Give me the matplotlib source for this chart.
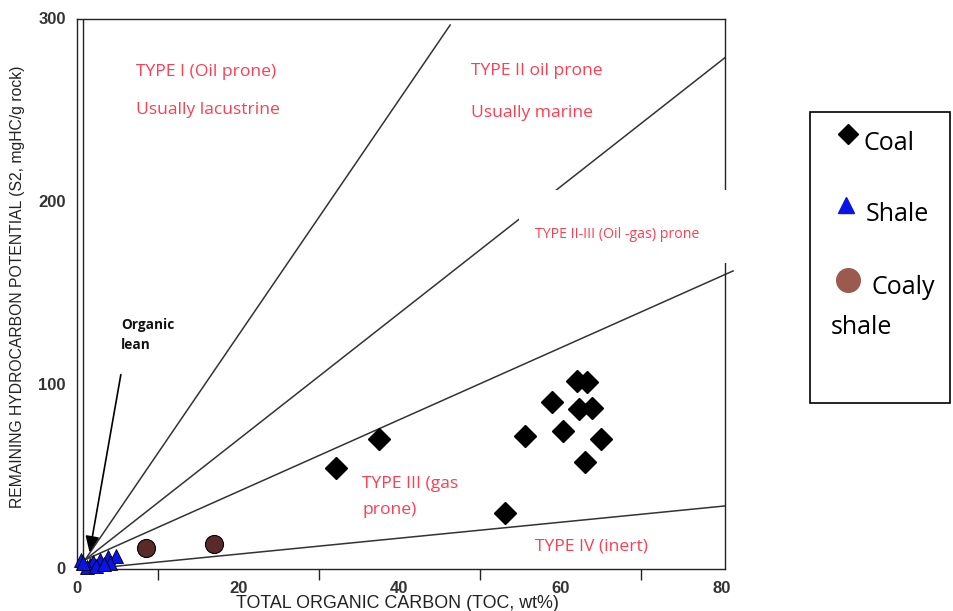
import matplotlib
matplotlib.use("Agg")
import matplotlib.pyplot as plt
from matplotlib.patches import Rectangle
from matplotlib.lines import Line2D

# ---------------- data ----------------
coal_toc = [62.0, 63.3, 58.9, 62.3, 63.9, 55.6, 60.3, 65.0, 63.0, 37.5, 32.1, 53.1]
coal_s2 = [102.6, 102.0, 91.1, 87.3, 87.8, 72.5, 75.3, 70.9, 58.4, 70.9, 55.1, 30.5]

shale_toc = [0.5, 1.6, 2.0, 2.9, 3.9, 4.9, 4.1, 1.2, 2.4, 3.3, 0.8]
shale_s2 = [4.9, 2.2, 4.0, 4.9, 6.4, 7.1, 3.4, 0.9, 1.6, 2.7, 3.1]

coaly_toc = [8.6, 17.0]
coaly_s2 = [11.3, 13.6]

# kerogen-type boundary lines (start point, slope, end TOC)
line_x0 = [1.0, 1.0, 1.0, 2.5]
line_y0 = [5.0, 5.0, 5.0, 0.5]
line_slope = [6.44, 3.45, 1.96, 0.435]
line_x1 = [46.3, 80.4, 81.4, 80.4]

x_ticklabels = [0, 20, 40, 60, 80]
x_minor_ticks = [10, 30, 50, 70]
y_ticklabels = [0, 100, 200, 300]

W, H = 954, 611
fig = plt.figure(figsize=(W / 100, H / 100), dpi=100)
ax = fig.add_axes([77 / W, 1 - 569 / H, (725 - 77) / W, (569 - 19) / H])
ax.set_xlim(0, 80.4)
ax.set_ylim(0, 300)

for s in ax.spines.values():
    s.set_linewidth(1.0)
    s.set_color("#222222")

ax.set_xticks(x_minor_ticks)
ax.set_xticklabels([])
ax.tick_params(axis="x", direction="out", length=8, width=1, color="#222222")
ax.set_yticks([])

tickfont = dict(family=["Liberation Sans", "DejaVu Sans"], fontsize=12,
                fontweight="bold", color="#333333")
for v in x_ticklabels:
    ax.text(v, -10.5, str(v), ha="center", va="center", **tickfont)
for v in y_ticklabels:
    ax.text(-1.4, v, str(v), ha="right", va="center", **tickfont)

narrow = ["Liberation Sans Narrow", "Liberation Sans", "DejaVu Sans"]
ax.text(39.8, -18.9, "TOTAL ORGANIC CARBON (TOC, wt%)", ha="center", va="center",
        family=narrow, fontsize=12.9, color="#222222")
fig.text(18 / W, 1 - 287 / H, "REMAINING HYDROCARBON POTENTIAL (S2, mgHC/g rock)",
         rotation=90, ha="center", va="center", family=narrow, fontsize=11.3,
         color="#222222")

# inner vertical line near the left spine
ax.axvline(0.75, color="#222222", lw=1.0)

# boundary lines
for x0, y0, m, x1 in zip(line_x0, line_y0, line_slope, line_x1):
    ax.plot([x0, x1], [y0, y0 + m * (x1 - x0)], color="#333333", lw=1.1,
            clip_on=False, zorder=2)

# organic lean arrow
ax.annotate("", xy=(1.5, 7.5), xytext=(5.5, 107.5),
            arrowprops=dict(arrowstyle="-|>,head_width=0.3,head_length=0.7",
                            color="black", lw=1.2, mutation_scale=14),
            zorder=3)
bold = dict(ha="left", va="center", fontsize=9.8, fontweight="bold",
            family=["Open Sans", "DejaVu Sans"], color="#111111")
ax.text(5.5, 133, "Organic", **bold)
ax.text(5.5, 122, "lean", **bold)

# data points
ax.plot(shale_toc, shale_s2, linestyle="none", marker="^", markersize=10,
        markerfacecolor="#0a14e6", markeredgecolor="black", markeredgewidth=0.6,
        zorder=5, clip_on=False)
ax.plot(coaly_toc, coaly_s2, linestyle="none", marker="o", markersize=13,
        markerfacecolor="#5a2a2a", markeredgecolor="black", markeredgewidth=0.8,
        zorder=5)
ax.plot(coal_toc, coal_s2, linestyle="none", marker="D", markersize=11,
        markerfacecolor="black", markeredgecolor="black", zorder=5)

# red region labels
red = "#ff3d52"
lab = dict(family=["Open Sans", "DejaVu Sans"], color=red, ha="left", va="center",
           fontsize=12.6)
ax.text(7.3, 271.1, "TYPE I (Oil prone)", **lab)
ax.text(7.3, 250.4, "Usually lacustrine", **lab)
ax.text(48.9, 271.7, "TYPE II oil prone", **lab)
ax.text(48.9, 248.8, "Usually marine", **lab)
ax.text(35.4, 46.4, "TYPE III (gas", **lab)
ax.text(35.4, 32.2, "prone)", **lab)
ax.text(56.8, 12.5, "TYPE IV (inert)", **lab)

# white box with the II-III label
fig.patches.append(Rectangle((519 / W, 1 - 263 / H), (750 - 519) / W, (263 - 190) / H,
                             transform=fig.transFigure, facecolor="white",
                             edgecolor="none", zorder=5))
fig.text(535 / W, 1 - 234 / H, "TYPE II-III (Oil -gas) prone",
         family=["Open Sans", "DejaVu Sans"], color=red, ha="left", va="center",
         fontsize=10.2, zorder=6)

# legend box
fig.patches.append(Rectangle((810 / W, 1 - 403 / H), (950 - 810) / W, (403 - 112) / H,
                             transform=fig.transFigure, facecolor="white",
                             edgecolor="black", lw=1.2, zorder=5))
leg_font = dict(family=["Open Sans", "DejaVu Sans"], fontsize=18, color="black",
                ha="left", va="center", zorder=7)
fig.add_artist(Line2D([848 / W], [1 - 134 / H], marker="D", markersize=10,
                      color="black", transform=fig.transFigure, zorder=7))
fig.text(864 / W, 1 - 144 / H, "Coal", **leg_font)
fig.add_artist(Line2D([846 / W], [1 - 205 / H], marker="^", markersize=12,
                      markerfacecolor="#0a14e6", markeredgecolor="#0a14e6",
                      transform=fig.transFigure, zorder=7))
fig.text(866 / W, 1 - 214 / H, "Shale", **leg_font)
fig.add_artist(Line2D([848 / W], [1 - 280 / H], marker="o", markersize=17,
                      markerfacecolor="#9a5a4e", markeredgecolor="#9a5a4e",
                      transform=fig.transFigure, zorder=7))
fig.text(872 / W, 1 - 288 / H, "Coaly", **leg_font)
fig.text(831 / W, 1 - 328 / H, "shale", **leg_font)

fig.savefig("out.png", dpi=100)
